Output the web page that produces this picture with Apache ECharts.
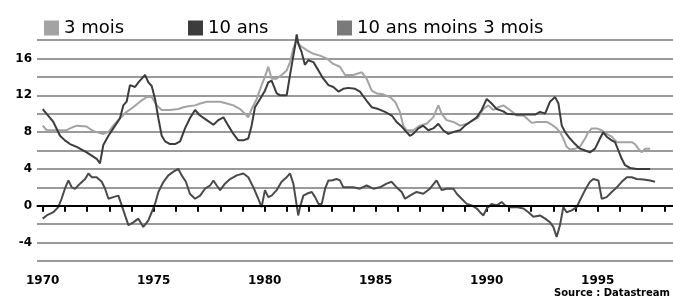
<!DOCTYPE html>
<html>
<head>
<meta charset="utf-8">
<script src="https://cdn.jsdelivr.net/npm/echarts@6/dist/echarts.min.js"></script>
<style>
  html, body { margin: 0; padding: 0; background: #fff; }
  #chart { width: 673px; height: 303px; }
</style>
</head>
<body>
<div id="chart"></div>
<script>
// [annee, taux]
const troisMois = [
  [1970.0, 8.7], [1970.18, 8.2], [1970.48, 8.2], [1970.78, 8.2], [1971.08, 8.2], [1971.23, 8.4],
  [1971.53, 8.7], [1971.98, 8.6], [1972.21, 8.2], [1972.43, 8.0], [1972.73, 7.8], [1972.96, 8.0],
  [1973.18, 8.7], [1973.48, 9.5], [1973.78, 10.2], [1974.08, 10.7], [1974.38, 11.3], [1974.68, 11.8],
  [1974.91, 11.8], [1975.14, 10.9], [1975.36, 10.4], [1975.74, 10.4], [1976.11, 10.5], [1976.34, 10.7],
  [1976.56, 10.8], [1976.86, 10.9], [1977.09, 11.1], [1977.39, 11.3], [1977.69, 11.3], [1977.99, 11.3],
  [1978.29, 11.1], [1978.59, 10.9], [1978.89, 10.5], [1979.11, 10.0], [1979.26, 9.6], [1979.41, 10.5],
  [1979.64, 11.6], [1979.86, 13.1], [1980.01, 14.0], [1980.16, 15.1], [1980.31, 13.8], [1980.54, 13.8],
  [1980.76, 14.2], [1980.99, 14.7], [1981.14, 15.6], [1981.29, 17.1], [1981.44, 18.0], [1981.59, 17.4],
  [1981.89, 16.9], [1982.19, 16.5], [1982.49, 16.3], [1982.79, 16.0], [1983.09, 15.4], [1983.39, 15.1],
  [1983.62, 14.2], [1983.99, 14.2], [1984.37, 14.5], [1984.59, 13.8], [1984.82, 12.5], [1985.04, 12.2],
  [1985.34, 12.1], [1985.64, 11.8], [1985.87, 11.3], [1986.09, 10.2], [1986.24, 8.7], [1986.39, 8.2],
  [1986.69, 8.2], [1986.99, 8.7], [1987.29, 8.9], [1987.59, 9.6], [1987.82, 10.9], [1987.97, 10.0],
  [1988.19, 9.3], [1988.5, 9.1], [1988.8, 8.7], [1989.1, 8.9], [1989.4, 9.3], [1989.62, 9.6],
  [1989.85, 10.5], [1990.07, 10.9], [1990.3, 10.4], [1990.52, 10.7], [1990.75, 10.9], [1991.05, 10.4],
  [1991.35, 9.8], [1991.65, 9.8], [1991.8, 9.5], [1992.03, 9.0], [1992.25, 9.1], [1992.48, 9.1],
  [1992.7, 9.1], [1992.93, 8.8], [1993.15, 8.4], [1993.3, 8.0], [1993.45, 7.3], [1993.6, 6.4],
  [1993.75, 6.1], [1993.98, 6.2], [1994.2, 6.4], [1994.43, 7.3], [1994.58, 8.0], [1994.73, 8.4],
  [1994.95, 8.4], [1995.18, 8.2], [1995.4, 7.8], [1995.63, 7.5], [1995.86, 6.9], [1996.08, 6.9],
  [1996.31, 6.9], [1996.53, 6.9], [1996.68, 6.7], [1996.83, 6.2], [1996.98, 5.8], [1997.13, 6.2],
  [1997.36, 6.2]
];

const dixAns = [
  [1970.0, 10.5], [1970.48, 9.1], [1970.78, 7.6], [1971.0, 7.1], [1971.23, 6.7], [1971.53, 6.4],
  [1971.98, 5.8], [1972.43, 5.1], [1972.58, 4.6], [1972.73, 6.6], [1972.96, 7.6], [1973.18, 8.4],
  [1973.48, 9.5], [1973.63, 10.9], [1973.78, 11.3], [1973.93, 13.1], [1974.16, 12.9], [1974.31, 13.4],
  [1974.46, 13.8], [1974.61, 14.2], [1974.76, 13.4], [1974.91, 13.0], [1975.06, 11.6], [1975.21, 9.5],
  [1975.36, 7.6], [1975.51, 7.0], [1975.74, 6.7], [1975.96, 6.7], [1976.19, 7.0], [1976.41, 8.4],
  [1976.63, 9.5], [1976.86, 10.4], [1977.09, 9.8], [1977.39, 9.3], [1977.69, 8.8], [1977.91, 9.3],
  [1978.14, 9.6], [1978.36, 8.7], [1978.59, 7.8], [1978.81, 7.1], [1979.04, 7.1], [1979.26, 7.3],
  [1979.41, 8.7], [1979.56, 10.7], [1979.79, 11.6], [1980.01, 12.5], [1980.16, 13.4], [1980.31, 13.6],
  [1980.54, 12.2], [1980.69, 12.0], [1980.99, 12.0], [1981.14, 14.2], [1981.29, 16.3], [1981.37, 17.4],
  [1981.44, 18.6], [1981.51, 17.6], [1981.66, 16.7], [1981.81, 15.3], [1981.96, 15.8], [1982.19, 15.6],
  [1982.42, 14.7], [1982.64, 13.8], [1982.87, 13.1], [1983.09, 12.9], [1983.32, 12.4], [1983.54, 12.7],
  [1983.77, 12.8], [1984.07, 12.7], [1984.29, 12.4], [1984.59, 11.4], [1984.82, 10.7], [1985.12, 10.5],
  [1985.42, 10.2], [1985.72, 9.8], [1985.94, 9.1], [1986.17, 8.6], [1986.39, 8.0], [1986.54, 7.6],
  [1986.69, 7.8], [1986.92, 8.4], [1987.14, 8.7], [1987.37, 8.2], [1987.59, 8.4], [1987.82, 8.9],
  [1988.04, 8.2], [1988.27, 7.8], [1988.5, 8.0], [1988.8, 8.2], [1989.02, 8.7], [1989.25, 9.1],
  [1989.55, 9.6], [1989.77, 10.4], [1990.0, 11.6], [1990.22, 11.1], [1990.45, 10.5], [1990.75, 10.25],
  [1990.9, 10.0], [1991.35, 9.9], [1991.8, 9.9], [1992.18, 9.9], [1992.4, 10.2], [1992.63, 10.0],
  [1992.85, 11.3], [1993.08, 11.8], [1993.23, 11.1], [1993.38, 8.7], [1993.53, 8.0], [1993.75, 7.3],
  [1993.98, 6.7], [1994.2, 6.2], [1994.43, 6.0], [1994.65, 5.8], [1994.88, 6.2], [1995.1, 7.3],
  [1995.25, 8.0], [1995.4, 7.5], [1995.63, 7.1], [1995.78, 6.9], [1995.93, 6.0], [1996.08, 5.1],
  [1996.23, 4.4], [1996.46, 4.1], [1996.76, 4.0], [1997.06, 4.0], [1997.36, 4.0]
];

const ecart = [
  [1970.0, -1.4], [1970.18, -1.05], [1970.48, -0.7], [1970.7, -0.15], [1970.85, 0.76], [1971.0, 1.85],
  [1971.16, 2.75], [1971.31, 2.0], [1971.46, 1.85], [1971.68, 2.4], [1971.91, 2.9], [1972.06, 3.5],
  [1972.21, 3.1], [1972.43, 3.1], [1972.66, 2.6], [1972.81, 1.85], [1972.96, 0.76], [1973.18, 0.94],
  [1973.41, 1.1], [1973.56, 0.04], [1973.71, -1.05], [1973.86, -2.1], [1974.08, -1.8], [1974.31, -1.4],
  [1974.53, -2.3], [1974.76, -1.6], [1974.91, -0.7], [1975.06, 0.2], [1975.21, 1.5], [1975.44, 2.6],
  [1975.66, 3.3], [1975.89, 3.7], [1976.11, 4.0], [1976.26, 3.3], [1976.45, 2.6], [1976.63, 1.3],
  [1976.86, 0.76], [1977.09, 1.1], [1977.31, 1.85], [1977.54, 2.2], [1977.69, 2.75], [1977.84, 2.2],
  [1977.99, 1.7], [1978.21, 2.4], [1978.44, 2.9], [1978.74, 3.3], [1979.04, 3.5], [1979.26, 3.1],
  [1979.49, 2.0], [1979.71, 0.76], [1979.86, -0.15], [1980.01, 1.7], [1980.16, 0.94], [1980.31, 1.1],
  [1980.54, 1.7], [1980.76, 2.6], [1980.99, 3.1], [1981.14, 3.5], [1981.29, 2.4], [1981.44, 0.04],
  [1981.51, -1.05], [1981.59, -0.15], [1981.74, 1.1], [1981.89, 1.3], [1982.12, 1.5], [1982.27, 0.94],
  [1982.42, 0.2], [1982.57, 0.2], [1982.72, 1.85], [1982.87, 2.75], [1983.02, 2.75], [1983.24, 2.9],
  [1983.39, 2.75], [1983.54, 2.0], [1983.99, 2.0], [1984.29, 1.85], [1984.59, 2.2], [1984.89, 1.85],
  [1985.19, 2.0], [1985.49, 2.4], [1985.72, 2.6], [1985.94, 2.0], [1986.17, 1.5], [1986.32, 0.76],
  [1986.54, 1.1], [1986.84, 1.5], [1987.14, 1.3], [1987.44, 1.85], [1987.74, 2.75], [1987.97, 1.7],
  [1988.19, 1.85], [1988.5, 1.85], [1988.65, 1.3], [1988.87, 0.76], [1989.1, 0.2], [1989.32, 0.04],
  [1989.55, -0.3], [1989.7, -0.7], [1989.85, -1.05], [1990.0, -0.3], [1990.22, 0.2], [1990.45, 0.04],
  [1990.67, 0.4], [1990.83, 0.04], [1991.05, -0.15], [1991.35, -0.15], [1991.65, -0.3], [1991.88, -0.7],
  [1992.1, -1.2], [1992.4, -1.05], [1992.63, -1.4], [1992.85, -1.8], [1993.0, -2.3], [1993.15, -3.4],
  [1993.3, -2.1], [1993.45, -0.15], [1993.6, -0.7], [1993.83, -0.5], [1994.05, -0.15], [1994.2, 0.6],
  [1994.43, 1.7], [1994.65, 2.6], [1994.8, 2.9], [1995.03, 2.75], [1995.18, 0.76], [1995.4, 0.94],
  [1995.63, 1.5], [1995.86, 2.0], [1996.08, 2.6], [1996.31, 3.1], [1996.53, 3.1], [1996.76, 2.9],
  [1997.06, 2.85], [1997.36, 2.75], [1997.58, 2.6]
];

const firstYear = 1970;
const lastYear = 1998.39;

var chartDom = document.getElementById('chart');
var myChart = echarts.init(chartDom);
var option;

const legendText = { color: '#000', fontFamily: 'DejaVu Sans', fontSize: 18 };

option = {
  animation: false,
  backgroundColor: '#fff',
  // grille 0 : les courbes ; grille 1 : seulement les graduations annuelles (meme echelle)
  grid: [
    { left: 37, right: 0, top: 40, bottom: 42 },
    { left: 42.7, right: 0, top: 40, bottom: 42 }
  ],
  legend: [
    { left: 39, top: 14, icon: 'rect', itemWidth: 15, itemHeight: 15, textStyle: legendText, data: ['3 mois'] },
    { left: 183, top: 14, icon: 'rect', itemWidth: 15, itemHeight: 15, textStyle: legendText, data: ['10 ans'] },
    {
      left: 332, top: 14, icon: 'rect', itemWidth: 15, itemHeight: 15, textStyle: legendText,
      data: [{ name: '10 ans moins 3 mois', itemStyle: { color: '#7a7a7a' } }]
    }
  ],
  xAxis: [
    {
      type: 'value',
      gridIndex: 0,
      min: firstYear - 5.7 / 22.2,
      max: lastYear,
      axisLine: { show: true, lineStyle: { color: '#8a8a8a', width: 2 } },
      axisTick: { show: false },
      axisLabel: { show: false },
      splitLine: { show: false }
    },
    {
      type: 'value',
      gridIndex: 1,
      min: firstYear,
      max: lastYear,
      interval: 1,
      axisLine: { show: false },
      axisTick: { show: true, length: 6, lineStyle: { color: '#000', width: 2 } },
      axisLabel: {
        formatter: v => (v % 5 === 0 ? String(v) : ''),
        showMaxLabel: false,
        margin: 14,
        color: '#000',
        fontFamily: 'DejaVu Sans',
        fontWeight: 'bold',
        fontSize: 12
      },
      splitLine: { show: false }
    }
  ],
  yAxis: [
    {
      type: 'value',
      gridIndex: 0,
      min: -6,
      max: 18,
      interval: 2,
      axisLine: { show: false },
      axisTick: { show: false },
      axisLabel: {
        formatter: v => (v % 4 === 0 ? String(v) : ''),
        margin: 5,
        color: '#000',
        fontFamily: 'DejaVu Sans',
        fontWeight: 'bold',
        fontSize: 12
      },
      splitLine: { show: true, lineStyle: { color: '#9a9a9a', width: 2 } }
    },
    {
      type: 'value',
      gridIndex: 1,
      min: -6,
      max: 18,
      show: false
    }
  ],
  graphic: [
    {
      type: 'text',
      right: 3,
      top: 288,
      style: { text: 'Source : Datastream', fill: '#000', font: 'bold 10px "DejaVu Sans"' }
    }
  ],
  series: [
    {
      name: '3 mois',
      type: 'line',
      data: troisMois,
      showSymbol: false,
      clip: false,
      color: '#a3a3a3',
      lineStyle: { width: 2, color: '#a3a3a3' },
      z: 3
    },
    {
      name: '10 ans',
      type: 'line',
      data: dixAns,
      showSymbol: false,
      clip: false,
      color: '#3c3c3c',
      lineStyle: { width: 2, color: '#3c3c3c' },
      z: 4
    },
    {
      name: '10 ans moins 3 mois',
      type: 'line',
      data: ecart,
      showSymbol: false,
      clip: false,
      color: '#4a4a4a',
      lineStyle: { width: 2, color: '#4a4a4a' },
      z: 4,
      markLine: {
        silent: true,
        symbol: 'none',
        label: { show: false },
        lineStyle: { color: '#000', width: 2, type: 'solid' },
        data: [{ yAxis: 0 }]
      }
    }
  ]
};

option && myChart.setOption(option);
</script>
</body>
</html>
